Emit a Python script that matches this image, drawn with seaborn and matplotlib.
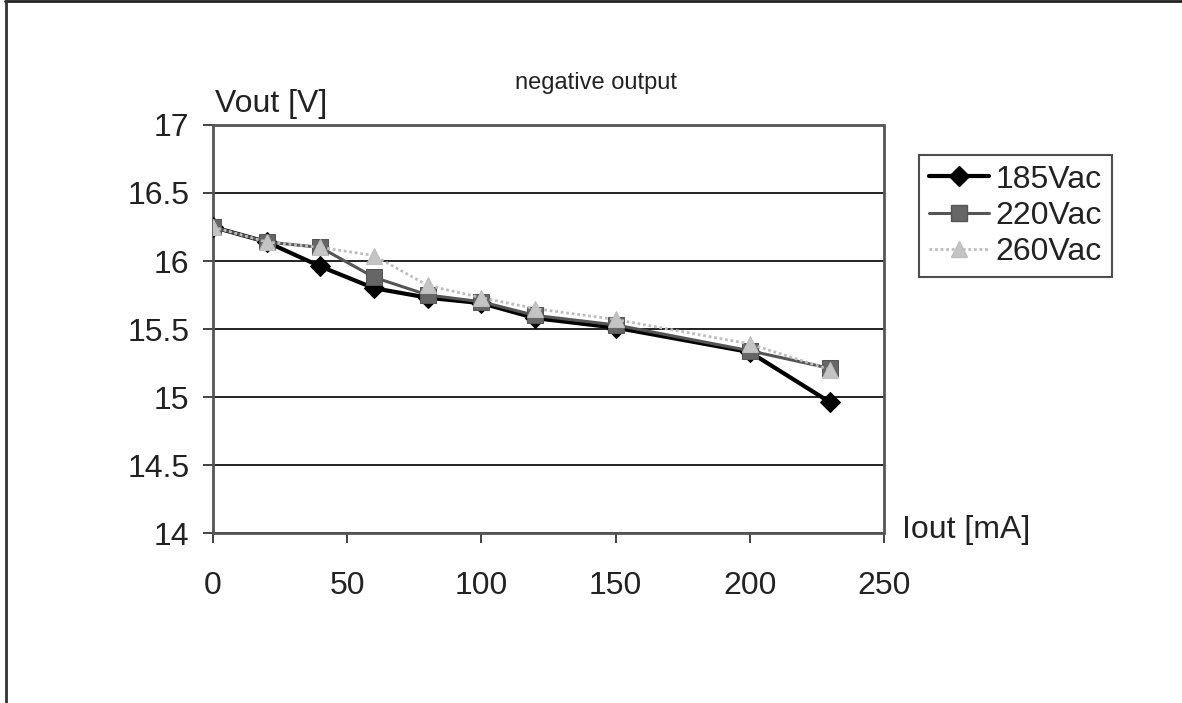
import numpy as np
import pandas as pd
import seaborn as sns
import matplotlib.pyplot as plt
from matplotlib.lines import Line2D

# data
iout = [0, 20, 40, 60, 80, 100, 120, 150, 200, 230]
v185 = [16.25, 16.14, 15.96, 15.80, 15.73, 15.69, 15.58, 15.51, 15.33, 14.96]
v220 = [16.25, 16.14, 16.10, 15.88, 15.75, 15.70, 15.60, 15.53, 15.34, 15.21]
v260 = [16.25, 16.14, 16.10, 16.04, 15.82, 15.73, 15.65, 15.57, 15.39, 15.20]
series_names = ['185Vac', '220Vac', '260Vac']

df = pd.DataFrame({'Iout': iout * 3,
                   'Vout': v185 + v220 + v260,
                   'series': np.repeat(series_names, len(iout))})

sns.set_style('white')
plt.rcParams['font.family'] = ['Liberation Sans', 'DejaVu Sans']
txt_col = '#222222'
fs = 23

fig = plt.figure(figsize=(11.82, 7.03), dpi=100)
ax = fig.add_axes([0.1802, 0.2418, 0.5677, 0.5804])

styles = {'185Vac': dict(color='black', marker='D', lw=3.0, ms=10, ls='-', mfc='black', mec='black'),
          '220Vac': dict(color='#555555', marker='s', lw=2.2, ms=11, ls='-', mfc='#666666', mec='#555555'),
          '260Vac': dict(color='#bdbdbd', marker='^', lw=2.0, ms=12, ls=(0, (1, 1)), mfc='#c4c4c4', mec='#bdbdbd')}

# series drawn in order, last one on top (as in the original)
for name in series_names:
    st = styles[name]
    sns.lineplot(data=df[df['series'] == name], x='Iout', y='Vout', ax=ax,
                 color=st['color'], marker=st['marker'], linewidth=st['lw'],
                 markersize=st['ms'], linestyle=st['ls'],
                 markerfacecolor=st['mfc'], markeredgecolor=st['mec'],
                 label=name, zorder=3)

ax.set_xlim(0, 250)
ax.set_ylim(14, 17)
ax.set_xticks([0, 50, 100, 150, 200, 250])
ax.set_yticks([14, 14.5, 15, 15.5, 16, 16.5, 17])
ax.set_yticklabels(['14', '14.5', '15', '15.5', '16', '16.5', '17'])
ax.set_xlabel('')
ax.set_ylabel('')
ax.yaxis.grid(True, color='#111111', linewidth=1.3)
ax.xaxis.grid(False)
ax.tick_params(axis='both', labelsize=fs, colors=txt_col, length=7, width=1.2,
               direction='out', left=True, bottom=True)
ax.tick_params(axis='y', pad=10)
ax.tick_params(axis='x', pad=20)
for sp in ax.spines.values():
    sp.set_visible(True)
    sp.set_color('#555555')
    sp.set_linewidth(2)
    sp.set_linestyle((0, (1, 1)))

handles = [Line2D([], [], color=styles[n]['color'], marker=styles[n]['marker'],
                  lw=styles[n]['lw'], ms=styles[n]['ms'], ls=styles[n]['ls'],
                  mfc=styles[n]['mfc'], mec=styles[n]['mec']) for n in series_names]
leg = ax.legend(handles, series_names, loc='upper left',
                bbox_to_anchor=(0.7775, 0.7795), bbox_transform=fig.transFigure,
                fontsize=fs, frameon=True, fancybox=False, edgecolor='#222222',
                handlelength=1.9, handletextpad=0.2, labelspacing=0.2,
                borderpad=0.3, borderaxespad=0)
leg.get_frame().set_linewidth(1.5)
for t in leg.get_texts():
    t.set_color(txt_col)

fig.text(0.182, 0.8407, 'Vout [V]', fontsize=fs, color=txt_col, va='baseline', ha='left')
fig.text(0.763, 0.2347, 'Iout [mA]', fontsize=fs, color=txt_col, va='baseline', ha='left')
fig.text(0.504, 0.8734, 'negative output', fontsize=17, color=txt_col, va='baseline', ha='center')

# outer frame lines (top and left)
fig.add_artist(Line2D([0.004, 1.0], [0.998, 0.998], transform=fig.transFigure, color='#222222', lw=2))
fig.add_artist(Line2D([0.005, 0.005], [0.0, 0.998], transform=fig.transFigure, color='#333333', lw=2))

fig.savefig('out.png', dpi=100)
